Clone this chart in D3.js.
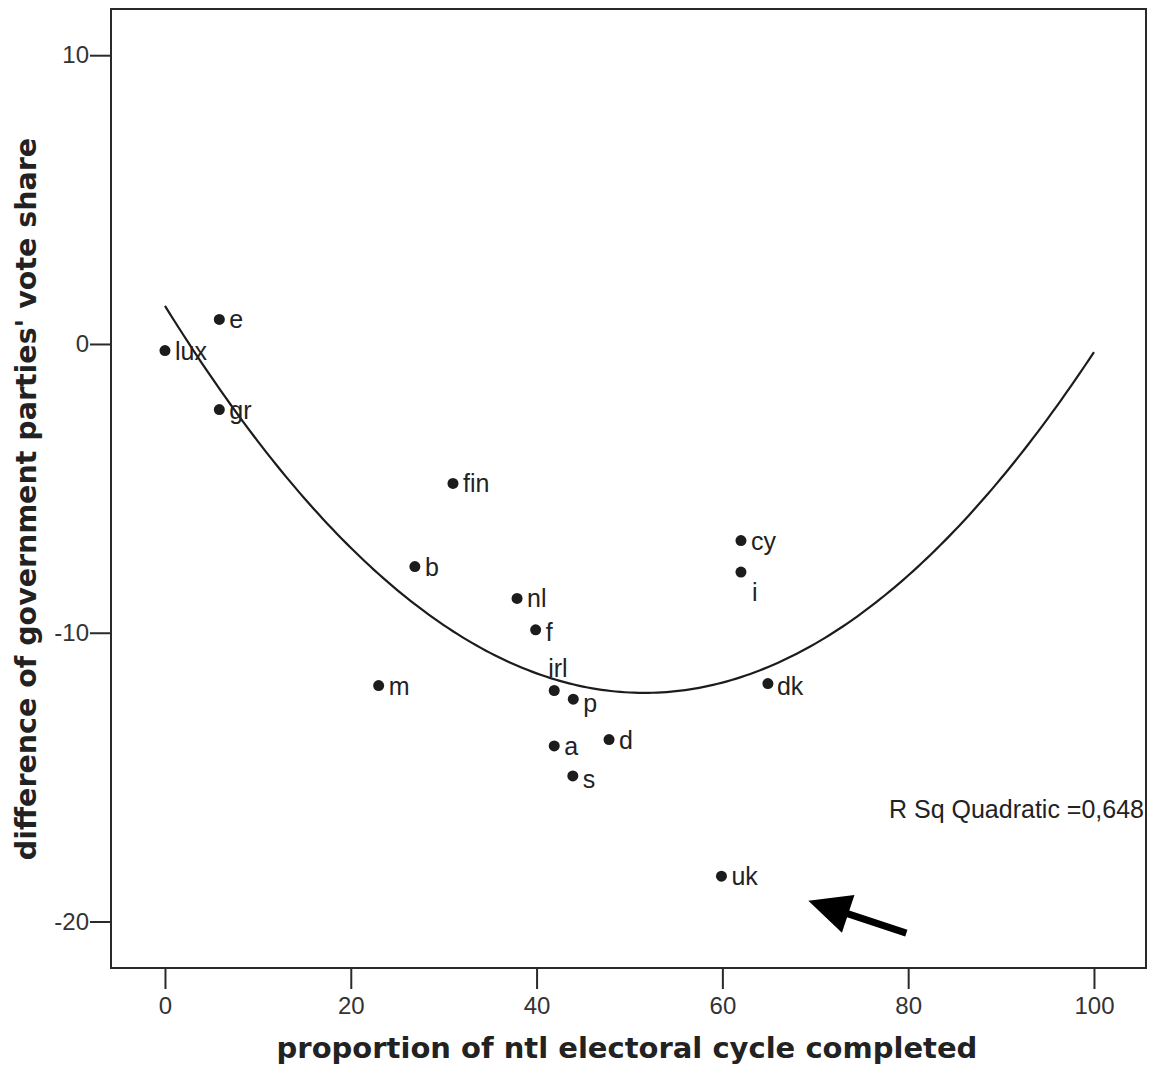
<!DOCTYPE html>
<html>
<head>
<meta charset="utf-8">
<script src="https://cdn.jsdelivr.net/npm/d3@7"></script>
<style>
  html, body { margin: 0; padding: 0; background: #fff; }
  svg { display: block; }
</style>
</head>
<body>
<svg id="chart" width="1153" height="1067"></svg>
<script>
// ---- data ----
const countries = ["lux","e","gr","fin","b","nl","f","m","irl","p","a","d","s","cy","i","dk","uk"];
const cycleCompleted = [0, 5.85, 5.85, 31.0, 26.9, 37.9, 39.9, 23.0, 41.9, 43.95, 41.9, 47.8, 43.9, 62.0, 62.0, 64.9, 59.9];
const voteShareDiff = [-0.23, 0.85, -2.27, -4.83, -7.71, -8.81, -9.9, -11.83, -12.0, -12.3, -13.92, -13.7, -14.96, -6.81, -7.9, -11.76, -18.43];
// quadratic fit: y = c0 + c1*x + c2*x^2
const fitCoefficients = [1.32, -0.5196, 0.005036];
const fitRange = [0, 100];
const xTicks = [0, 20, 40, 60, 80, 100];
const yTicks = [-20, -10, 0, 10];
const rSqLabel = "R Sq Quadratic =0,648";
const xTitle = "proportion of ntl electoral cycle completed";
const yTitle = "difference of government parties' vote share";
// annotation arrow (data coordinates): tail -> tip
const arrowTail = [79.8, -20.4];
const arrowTip = [69.25, -19.28];

(function () {
// ---- layout ----
const svg = d3.select("#chart");
const pLeft = 111, pRight = 1146, pTop = 9, pBottom = 968;
const x = d3.scaleLinear().domain([-5.81, 105.6]).range([pLeft, pRight]);
const y = d3.scaleLinear().domain([-21.61, 11.60]).range([pBottom, pTop]);
const ink = "#1c1c1c";
const sans = "Liberation Sans, Arial, sans-serif";

svg.append("rect").attr("width", 1153).attr("height", 1067).attr("fill", "#fff");

// frame
svg.append("rect")
  .attr("x", pLeft).attr("y", pTop)
  .attr("width", pRight - pLeft).attr("height", pBottom - pTop)
  .attr("fill", "none").attr("stroke", "#2a2a2a").attr("stroke-width", 2);

// axes
const plain = d => String(d);
const xAxis = d3.axisBottom(x).tickValues(xTicks).tickFormat(plain).tickSize(21).tickPadding(8).tickSizeOuter(0);
const gx = svg.append("g").attr("transform", `translate(0,${pBottom})`).call(xAxis);
gx.select(".domain").remove();
gx.selectAll(".tick line").attr("stroke", "#2a2a2a").attr("stroke-width", 2);
gx.selectAll(".tick text").attr("fill", "#333").attr("font-family", sans).attr("font-size", 24);

const yAxis = d3.axisLeft(y).tickValues(yTicks).tickFormat(plain).tickSize(21).tickPadding(1).tickSizeOuter(0);
const gy = svg.append("g").attr("transform", `translate(${pLeft},0)`).call(yAxis);
gy.select(".domain").remove();
gy.selectAll(".tick line").attr("stroke", "#2a2a2a").attr("stroke-width", 2);
gy.selectAll(".tick text").attr("fill", "#333").attr("font-family", sans).attr("font-size", 24);

// fit curve
const fit = xv => fitCoefficients[0] + fitCoefficients[1] * xv + fitCoefficients[2] * xv * xv;
const curveXs = d3.range(fitRange[0], fitRange[1] + 0.001, 0.5);
svg.append("path")
  .datum(curveXs)
  .attr("d", d3.line().x(d => x(d)).y(d => y(fit(d))))
  .attr("fill", "none").attr("stroke", ink).attr("stroke-width", 2.2);

// points
const pts = countries.map((c, i) => ({ c, x: cycleCompleted[i], y: voteShareDiff[i] }));
svg.append("g").selectAll("circle").data(pts).join("circle")
  .attr("cx", d => x(d.x)).attr("cy", d => y(d.y)).attr("r", 5.5).attr("fill", ink);

// labels
const labelOffset = { irl: [-6, -13], i: [11, 29], p: [10, 13], s: [10, 12], dk: [9, 11], f: [10, 11] };
svg.append("g").selectAll("text").data(pts).join("text")
  .attr("x", d => x(d.x) + (labelOffset[d.c] ? labelOffset[d.c][0] : 10))
  .attr("y", d => y(d.y) + (labelOffset[d.c] ? labelOffset[d.c][1] : 9))
  .attr("font-family", sans).attr("font-size", 25)
  .attr("fill", "#222")
  .text(d => d.c);

// R squared
svg.append("text")
  .attr("x", pRight - 2).attr("y", 818)
  .attr("text-anchor", "end")
  .attr("font-family", sans).attr("font-size", 25)
  .attr("fill", "#222")
  .text(rSqLabel);

// arrow
const tx = x(arrowTip[0]), ty = y(arrowTip[1]);
const sx = x(arrowTail[0]), sy = y(arrowTail[1]);
const ang = Math.atan2(sy - ty, sx - tx);
const headLen = 42, headHalf = 20;
const bx = tx + headLen * Math.cos(ang), by = ty + headLen * Math.sin(ang);
const nx = -Math.sin(ang), ny = Math.cos(ang);
svg.append("line")
  .attr("x1", sx).attr("y1", sy).attr("x2", bx - 4 * Math.cos(ang)).attr("y2", by - 4 * Math.sin(ang))
  .attr("stroke", "#000").attr("stroke-width", 7);
svg.append("path")
  .attr("d", `M${tx},${ty}L${bx + nx * headHalf},${by + ny * headHalf}L${bx - nx * headHalf},${by - ny * headHalf}Z`)
  .attr("fill", "#000");

// axis titles
svg.append("text")
  .attr("x", 627).attr("y", 1058)
  .attr("text-anchor", "middle")
  .attr("font-family", "DejaVu Sans, sans-serif").attr("font-weight", "bold").attr("font-size", 29)
  .attr("fill", "#222")
  .text(xTitle);

svg.append("text")
  .attr("transform", `translate(36,499) rotate(-90)`)
  .attr("text-anchor", "middle")
  .attr("font-family", "DejaVu Sans, sans-serif").attr("font-weight", "bold").attr("font-size", 28.5)
  .attr("fill", "#222")
  .text(yTitle);
})();
</script>
</body>
</html>
